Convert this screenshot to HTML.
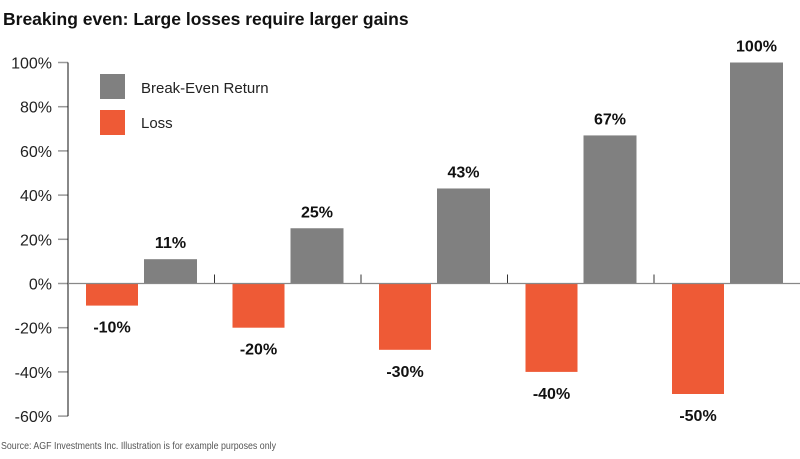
<!DOCTYPE html>
<html><head><meta charset="utf-8"><style>
body{margin:0;background:#fff;font-family:"Liberation Sans",sans-serif;}
svg{display:block}
</style></head><body>
<svg width="800" height="459" viewBox="0 0 800 459">
<text x="3" y="25" font-size="17.5" font-weight="bold" fill="#111">Breaking even: Large losses require larger gains</text>
<g id="axis"></g>
<g id="bars"></g>
<g>
<rect x="100" y="74" width="25" height="25" fill="#808080"/>
<text x="141" y="93" font-size="15" fill="#222">Break-Even Return</text>
<rect x="100" y="110" width="25" height="25" fill="#ee5a36"/>
<text x="141" y="128" font-size="15" fill="#222">Loss</text>
</g>
<text x="1" y="449" font-size="10.5" fill="#555" textLength="275" lengthAdjust="spacingAndGlyphs">Source: AGF Investments Inc. Illustration is for example purposes only</text>
</svg>
<script>
const categories = ["10% loss","20% loss","30% loss","40% loss","50% loss"];
const lossValues = [-10,-20,-30,-40,-50];
const gainValues = [11,25,43,67,100];
const tickValues = [100,80,60,40,20,0,-20,-40,-60];
const NS="http://www.w3.org/2000/svg";
const y = v => 283.5 - v*2.21;
const x0 = 68, gw = 146.5;
function mk(tag, attrs, parent, text){const e=document.createElementNS(NS,tag);for(const k in attrs)e.setAttribute(k,attrs[k]);if(text!==undefined)e.textContent=text;parent.appendChild(e);return e;}
const ax=document.getElementById('axis');
tickValues.forEach(v=>{
  const t=mk('line',{x1:58,x2:68,y1:y(v),y2:y(v),stroke:'#999','stroke-width':1.5},ax);
  
  
  const l=mk('text',{x:52,y:y(v)+6,'text-anchor':'end','font-size':16,fill:'#222'},ax,v+'%');
  
  
});
const axl=mk('line',{x1:68,x2:68,y1:y(100),y2:y(-60),stroke:'#111','stroke-width':1},ax);


const bg=document.getElementById('bars');
categories.forEach((c,i)=>{
  const gx=x0+i*gw;
  const lb=mk('rect',{x:gx+18,y:y(0),width:52,height:y(lossValues[i])-y(0),fill:'#ee5a36'},bg);
  
  
  const gb=mk('rect',{x:gx+76,y:y(gainValues[i]),width:53,height:y(0)-y(gainValues[i]),fill:'#808080'},bg);
  
  
  const ll=mk('text',{x:gx+44,y:y(lossValues[i])+27,'text-anchor':'middle','font-size':16,'font-weight':'bold',fill:'#111'},bg,lossValues[i]+'%');
  
  
  const gl=mk('text',{x:gx+102.5,y:y(gainValues[i])-11,'text-anchor':'middle','font-size':16,'font-weight':'bold',fill:'#111'},bg,gainValues[i]+'%');
  
  
  if(i>0){const s=mk('line',{x1:gx,x2:gx,y1:y(0)-9,y2:y(0),stroke:'#333','stroke-width':1},bg);
  
  }
});
const zl=mk('line',{x1:68,x2:800,y1:y(0),y2:y(0),stroke:'#888','stroke-width':1.2},bg);


</script>
</body></html>
